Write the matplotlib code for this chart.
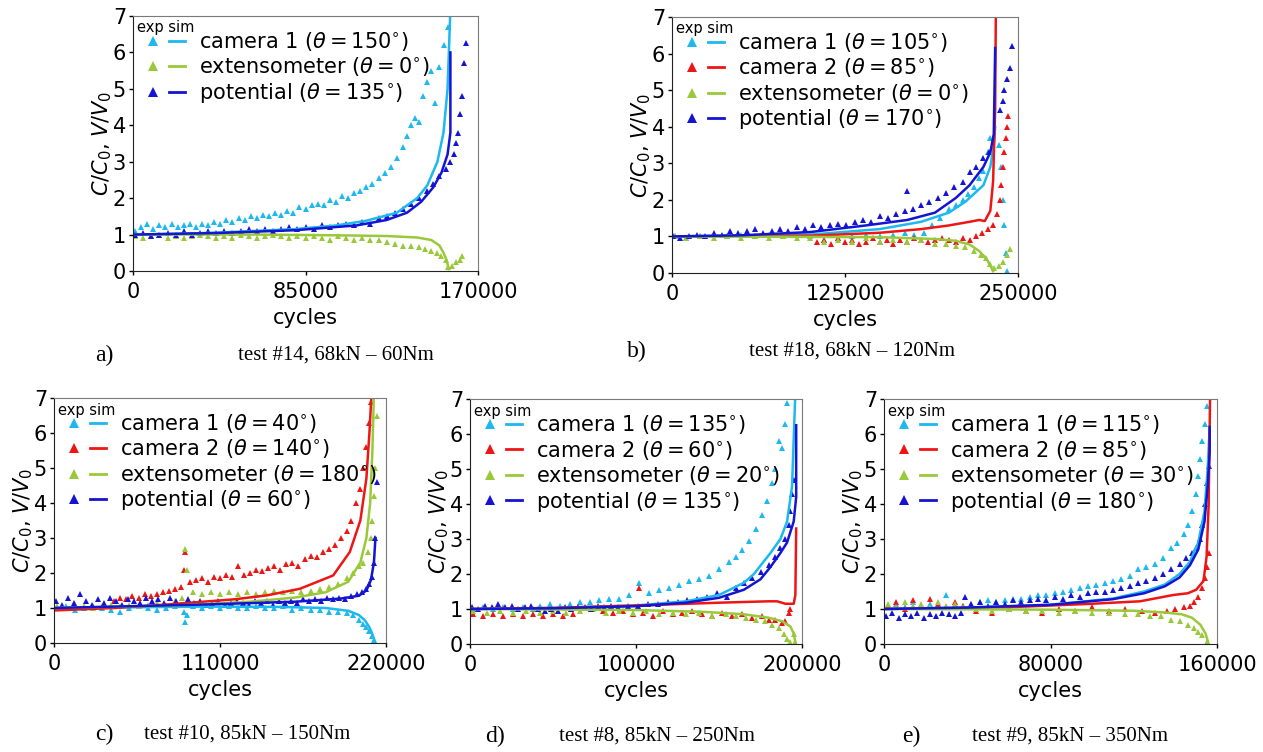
"""Capacitance / potential ratio versus cycles for five fatigue tests.

Triangles are measurements, solid lines the simulation.
"""

import numpy as np
import matplotlib
matplotlib.use('Agg')
from matplotlib import pyplot as plt
from matplotlib.lines import Line2D
from matplotlib.legend_handler import HandlerTuple

plt.rc('font', size=15.0)
plt.rc('lines', linewidth=1.7)

W, H = 1263, 752  # output size in pixels

C_CAM1 = '#1cb8ee'
C_CAM2 = '#ee1515'
C_EXT = '#99c93a'
C_POT = '#1414d2'

# ---------------------------------------------------------------------------
# data, cycles given in thousands
# ---------------------------------------------------------------------------

# test #14
a_xticks = [0, 85000, 170000]
a_cam1_x = [1, 4, 7, 10, 13, 16, 19, 22, 25, 28,
            31, 34, 37, 40, 43, 46, 49, 52, 55, 58,
            61, 64, 67, 70, 73, 76, 79, 82, 85, 88,
            91, 94, 97, 100, 103, 106, 109, 112, 115, 118,
            121, 124, 127, 130, 133, 135, 137, 139, 141, 143,
            145, 147, 149, 151, 153, 155]
a_cam1_y = [1.1, 1.2, 1.3, 1.15, 1.25, 1.2, 1.3, 1.2, 1.25, 1.3,
            1.2, 1.3, 1.25, 1.35, 1.3, 1.4, 1.35, 1.45, 1.4, 1.5,
            1.45, 1.55, 1.5, 1.6, 1.55, 1.65, 1.6, 1.75, 1.7, 1.8,
            1.85, 1.8, 1.95, 1.9, 2.05, 2.0, 2.15, 2.2, 2.3, 2.4,
            2.55, 2.7, 2.85, 3.1, 3.4, 3.7, 4.0, 4.2, 4.1, 4.8,
            5.2, 5.5, 4.6, 5.6, 6.2, 6.7]
a_pot_x = [1, 5, 9, 13, 17, 21, 25, 29, 33, 37,
           41, 45, 49, 53, 57, 61, 65, 69, 73, 77,
           81, 85, 89, 93, 97, 101, 105, 109, 113, 117,
           121, 125, 129, 133, 137, 141, 145, 148, 151, 154,
           156, 158, 159, 160, 161, 162, 163, 164]
a_pot_y = [1.0, 1.05, 0.95, 1.0, 1.05, 1.0, 1.1, 1.0, 1.05, 1.1,
           1.05, 1.1, 1.05, 1.1, 1.15, 1.1, 1.15, 1.1, 1.15, 1.2,
           1.15, 1.2, 1.15, 1.25, 1.2, 1.25, 1.3, 1.25, 1.35, 1.3,
           1.45, 1.5, 1.6, 1.7, 1.85, 2.0, 2.2, 2.4, 2.6, 2.8,
           3.0, 3.2, 3.5, 3.8, 4.3, 4.8, 5.7, 6.25]
a_ext_x = [1, 5, 9, 13, 17, 21, 25, 29, 33, 37,
           41, 45, 49, 53, 57, 61, 65, 69, 73, 77,
           81, 85, 89, 93, 97, 101, 105, 109, 113, 117,
           121, 125, 129, 133, 137, 141, 144, 147, 150, 152,
           154, 155, 157, 159, 161, 162]
a_ext_y = [0.95, 0.9, 0.95, 1.0, 0.9, 0.95, 0.9, 0.95, 1.0, 0.95,
           0.9, 0.95, 0.9, 1.0, 0.95, 0.9, 0.95, 1.0, 0.95, 0.9,
           0.95, 0.9, 0.95, 0.9, 0.85, 0.95, 0.9, 0.85, 0.9, 0.85,
           0.85, 0.8, 0.75, 0.7, 0.7, 0.65, 0.6, 0.55, 0.5, 0.4,
           0.3, 0.1, 0.15, 0.25, 0.3, 0.4]
a_cam1_sim_x = [0, 20, 40, 60, 80, 100, 115, 130, 140, 145, 150, 153, 155, 156.4]
a_cam1_sim_y = [1.0, 1.02, 1.05, 1.1, 1.15, 1.25, 1.38, 1.6, 2.0, 2.35, 3.0, 3.8, 5.0, 7.2]
a_pot_sim_x = [0, 40, 80, 110, 125, 135, 142, 148, 152, 155, 156.4, 156.4]
a_pot_sim_y = [1.0, 1.04, 1.12, 1.25, 1.4, 1.6, 1.9, 2.3, 2.7, 3.2, 3.8, 6.0]
a_ext_sim_x = [0, 60, 100, 125, 140, 147, 151, 153, 154.5, 155.6]
a_ext_sim_y = [1.0, 1.0, 0.98, 0.96, 0.92, 0.85, 0.7, 0.5, 0.3, 0.05]

# test #18
b_xticks = [0, 125000, 250000]
b_cam1_x = [2, 10, 20, 30, 40, 50, 60, 70, 80, 90,
            100, 110, 120, 130, 140, 150, 160, 168, 175, 182,
            188, 194, 200, 205, 210, 214, 218, 222, 225, 228,
            230, 236, 238, 239, 240, 241, 242]
b_cam1_y = [1.0, 0.95, 1.0, 1.05, 1.0, 1.05, 1.0, 1.05, 1.0, 1.05,
            1.0, 0.9, 0.95, 1.0, 1.05, 1.0, 1.05, 1.1, 1.05, 1.1,
            1.3, 1.5, 1.75, 1.85, 2.0, 2.15, 2.35, 2.6, 2.8, 3.3,
            3.7, 3.5, 2.9, 2.0, 1.3, 0.55, 0.05]
b_cam2_x = [105, 110, 115, 120, 125, 130, 135, 140, 145, 150,
            155, 160, 165, 170, 175, 180, 185, 190, 195, 200,
            205, 210, 215, 220, 224, 228, 232, 235, 237, 238,
            239, 240, 241, 242, 243]
b_cam2_y = [0.85, 0.9, 0.8, 0.95, 0.85, 0.9, 0.8, 0.85, 0.95, 0.85,
            0.9, 0.8, 0.9, 0.85, 0.95, 0.9, 0.85, 0.9, 0.95, 0.9,
            0.85, 0.95, 0.9, 1.0, 1.1, 1.2, 1.3, 1.6, 2.0, 2.4,
            2.9, 3.3, 3.7, 4.0, 4.3]
b_ext_x = [2, 10, 20, 30, 40, 50, 60, 70, 80, 90,
           100, 110, 120, 130, 140, 150, 160, 170, 180, 190,
           198, 205, 212, 218, 223, 227, 230, 233, 236, 239,
           242, 244]
b_ext_y = [1.0, 0.95, 1.0, 0.95, 1.0, 0.95, 1.0, 0.95, 1.0, 0.95,
           0.95, 0.85, 0.9, 0.85, 0.95, 0.85, 0.9, 0.85, 0.9, 0.8,
           0.8, 0.75, 0.7, 0.6, 0.5, 0.4, 0.25, 0.15, 0.2, 0.3,
           0.5, 0.65]
b_pot_x = [1, 6, 12, 18, 24, 30, 36, 42, 48, 54,
           60, 66, 72, 78, 84, 90, 96, 102, 108, 114,
           120, 126, 132, 138, 144, 150, 156, 162, 168, 170,
           174, 180, 186, 192, 198, 204, 210, 215, 220, 225,
           229, 237, 239, 240, 242, 244, 246]
b_pot_y = [1.0, 0.95, 1.0, 1.05, 1.0, 1.1, 1.05, 1.15, 1.1, 1.15,
           1.2, 1.1, 1.15, 1.2, 1.15, 1.25, 1.2, 1.3, 1.25, 1.3,
           1.35, 1.3, 1.4, 1.45, 1.4, 1.55, 1.5, 1.6, 1.7, 2.25,
           1.75, 1.85, 1.95, 2.05, 2.2, 2.35, 2.5, 2.75, 2.9, 3.15,
           3.3, 4.45, 4.7, 5.0, 5.3, 5.6, 6.2]
b_cam1_sim_x = [0, 100, 150, 180, 200, 212, 225, 230, 232.5, 233.5]
b_cam1_sim_y = [1.0, 1.05, 1.2, 1.4, 1.65, 1.95, 2.4, 2.9, 3.5, 4.0]
b_cam2_sim_x = [0, 100, 150, 180, 200, 215, 222, 226, 230, 232, 233.5, 234]
b_cam2_sim_y = [1.0, 1.02, 1.1, 1.2, 1.3, 1.4, 1.45, 1.42, 1.7, 2.5, 4.5, 7.2]
b_ext_sim_x = [0, 150, 190, 205, 215, 222, 227, 230, 232]
b_ext_sim_y = [1.0, 0.98, 0.93, 0.88, 0.78, 0.6, 0.4, 0.2, 0.05]
b_pot_sim_x = [0, 50, 100, 140, 170, 190, 205, 215, 225, 230, 232.5, 233.5]
b_pot_sim_y = [1.0, 1.03, 1.12, 1.3, 1.45, 1.65, 2.05, 2.4, 2.9, 3.3, 3.8, 6.15]

# test #10
c_xticks = [0, 110000, 220000]
c_cam1_x = [2, 8, 14, 20, 26, 32, 38, 44, 50, 56,
            62, 68, 74, 80, 86, 87, 88, 92, 98, 104,
            110, 116, 122, 128, 134, 140, 146, 152, 158, 164,
            170, 176, 182, 188, 194, 198, 202, 205, 207, 209,
            211, 212]
c_cam1_y = [1.0, 1.05, 0.95, 1.0, 1.05, 1.0, 0.95, 0.9, 1.0, 1.05,
            1.0, 0.95, 1.0, 1.05, 0.9, 0.6, 0.8, 1.05, 1.0, 1.05,
            1.0, 1.05, 1.0, 1.0, 1.05, 1.0, 1.0, 1.05, 0.95, 1.0,
            0.95, 0.95, 0.9, 0.9, 0.85, 0.8, 0.65, 0.55, 0.45, 0.35,
            0.2, 0.1]
c_cam2_x = [40, 44, 48, 52, 56, 60, 64, 68, 72, 76,
            80, 84, 86, 87, 90, 94, 98, 102, 106, 110,
            114, 118, 122, 126, 130, 134, 138, 142, 146, 150,
            154, 158, 162, 166, 170, 174, 178, 182, 186, 190,
            194, 197, 200, 203, 205, 207, 209, 210]
c_cam2_y = [1.2, 1.3, 1.25, 1.35, 1.3, 1.4, 1.35, 1.4, 1.45, 1.5,
            1.55, 1.6, 2.1, 2.6, 1.75, 1.8, 1.85, 1.75, 1.9, 1.85,
            1.95, 1.9, 2.2, 1.95, 2.0, 2.1, 2.05, 2.15, 2.2, 2.1,
            2.25, 2.3, 2.2, 2.4, 2.5, 2.45, 2.6, 2.7, 2.8, 3.0,
            3.2, 3.5, 4.0, 4.4, 5.0, 5.6, 6.3, 6.9]
c_ext_x = [2, 8, 14, 20, 26, 32, 38, 44, 50, 56,
           62, 68, 74, 80, 85, 87, 88, 92, 98, 104,
           110, 116, 122, 128, 134, 140, 146, 152, 158, 164,
           170, 176, 182, 188, 194, 198, 202, 205, 208, 210,
           211, 212, 213, 214]
c_ext_y = [1.05, 1.0, 1.1, 1.05, 1.0, 1.05, 1.1, 1.05, 1.1, 1.05,
           1.1, 1.15, 1.1, 1.2, 1.3, 2.7, 2.1, 1.45, 1.4, 1.45,
           1.4, 1.45, 1.4, 1.45, 1.4, 1.45, 1.5, 1.45, 1.5, 1.45,
           1.5, 1.55, 1.6, 1.7, 1.85, 2.0, 2.2, 2.3, 2.6, 3.0,
           3.5, 4.2, 5.0, 6.5]
c_pot_x = [1, 5, 9, 13, 17, 21, 25, 29, 33, 37,
           41, 45, 49, 53, 57, 61, 65, 69, 73, 77,
           81, 85, 89, 93, 97, 101, 105, 109, 113, 117,
           121, 125, 129, 133, 137, 141, 145, 149, 153, 157,
           161, 165, 169, 173, 177, 181, 185, 189, 193, 197,
           201, 204, 207, 209, 211, 212, 213, 214]
c_pot_y = [1.2, 1.1, 1.3, 1.15, 1.4, 1.2, 1.1, 1.25, 1.15, 1.3,
           1.2, 1.1, 1.25, 1.2, 1.15, 1.3, 1.2, 1.25, 1.15, 1.3,
           1.2, 1.1, 1.25, 1.15, 1.2, 1.1, 1.15, 1.2, 1.1, 1.15,
           1.2, 1.15, 1.1, 1.2, 1.15, 1.2, 1.1, 1.2, 1.15, 1.2,
           1.15, 1.25, 1.2, 1.25, 1.2, 1.3, 1.25, 1.3, 1.25, 1.35,
           1.4, 1.45, 1.55, 1.7, 1.9, 2.3, 3.0, 4.6]
c_cam1_sim_x = [0, 50, 100, 150, 180, 195, 202, 206, 209, 211, 212.5]
c_cam1_sim_y = [1.0, 1.02, 1.04, 1.03, 1.0, 0.92, 0.8, 0.65, 0.45, 0.25, 0.05]
c_cam2_sim_x = [0, 40, 75, 120, 141, 163, 185, 196, 203, 207, 209, 210.5]
c_cam2_sim_y = [0.93, 1.0, 1.1, 1.25, 1.36, 1.55, 1.93, 2.6, 3.5, 4.7, 6.0, 7.2]
c_ext_sim_x = [0, 80, 130, 160, 180, 195, 203, 207, 209.5, 211, 212]
c_ext_sim_y = [1.0, 1.07, 1.18, 1.3, 1.45, 1.75, 2.3, 3.0, 4.0, 5.5, 7.2]
c_pot_sim_x = [0, 100, 160, 190, 202, 207, 210, 212, 213]
c_pot_sim_y = [1.0, 1.1, 1.18, 1.27, 1.35, 1.5, 1.8, 2.3, 3.0]

# test #8
d_xticks = [0, 100000, 200000]
d_cam1_x = [2, 8, 14, 20, 26, 32, 38, 42, 48, 54,
            60, 66, 72, 78, 84, 90, 96, 102, 108, 114,
            120, 126, 132, 138, 144, 150, 156, 160, 164, 168,
            172, 176, 179, 182, 184, 186, 188, 190, 191]
d_cam1_y = [1.0, 1.05, 1.0, 1.05, 1.0, 1.05, 1.0, 1.1, 1.15, 1.1,
            1.15, 1.2, 1.2, 1.25, 1.3, 1.3, 1.4, 1.75, 1.45, 1.55,
            1.6, 1.7, 1.8, 1.85, 1.95, 2.15, 2.35, 2.5, 2.7, 2.95,
            3.3, 3.7, 4.1, 4.6, 5.0, 5.8, 5.6, 6.3, 6.9]
d_cam2_x = [2, 8, 14, 20, 26, 32, 38, 44, 50, 56,
            62, 80, 86, 92, 98, 102, 104, 110, 116, 122,
            128, 134, 140, 146, 152, 158, 164, 170, 176, 180,
            184, 188, 190, 192, 193]
d_cam2_y = [0.85, 0.8, 0.85, 0.8, 0.85, 0.8, 0.85, 0.8, 0.85, 0.8,
            0.85, 0.95, 0.9, 0.95, 0.85, 1.6, 0.9, 0.8, 0.95, 0.85,
            0.9, 0.95, 0.85, 0.8, 0.9, 0.8, 0.85, 0.75, 0.8, 0.7,
            0.7, 0.6, 0.65, 0.9, 1.0]
d_ext_x = [2, 10, 18, 26, 34, 42, 50, 58, 66, 74,
           82, 90, 98, 106, 114, 122, 130, 138, 146, 154,
           160, 166, 172, 178, 182, 186, 189, 191, 193, 195,
           196]
d_ext_y = [0.95, 0.9, 0.95, 0.9, 0.95, 0.9, 0.95, 0.9, 0.95, 1.0,
           0.9, 0.95, 0.9, 0.95, 0.85, 0.9, 0.85, 0.9, 0.8, 0.85,
           0.8, 0.75, 0.7, 0.65, 0.55, 0.45, 0.3, 0.15, 0.05, 0.3,
           0.05]
d_pot_x = [1, 5, 9, 13, 17, 21, 25, 29, 33, 37,
           41, 45, 49, 53, 57, 61, 65, 69, 73, 77,
           81, 85, 89, 95, 101, 107, 113, 119, 125, 131,
           137, 143, 149, 155, 160, 165, 170, 175, 180, 184,
           187, 190, 192, 193, 194, 195]
d_pot_y = [1.05, 1.0, 1.1, 1.05, 1.15, 1.05, 1.1, 1.0, 1.05, 1.1,
           1.0, 0.95, 1.0, 0.95, 1.05, 1.0, 1.05, 1.05, 1.0, 1.1,
           1.05, 1.1, 1.05, 1.1, 1.1, 1.15, 1.15, 1.2, 1.2, 1.25,
           1.3, 1.35, 1.45, 1.35, 1.6, 1.75, 1.9, 2.05, 2.25, 2.5,
           2.75, 3.0, 3.4, 3.8, 4.3, 4.7]
d_cam1_sim_x = [0, 50, 100, 130, 150, 165, 171, 181, 187, 191, 194, 196]
d_cam1_sim_y = [1.0, 1.03, 1.1, 1.22, 1.4, 1.75, 2.0, 2.6, 3.0, 3.5, 4.5, 7.2]
d_cam2_sim_x = [0, 50, 100, 150, 180, 185, 190, 195, 196, 196.5]
d_cam2_sim_y = [1.0, 1.03, 1.1, 1.18, 1.22, 1.22, 1.15, 1.15, 1.4, 3.3]
d_ext_sim_x = [0, 100, 140, 165, 180, 188, 193, 195, 196]
d_ext_sim_y = [1.0, 0.97, 0.92, 0.85, 0.75, 0.65, 0.5, 0.3, 0.05]
d_pot_sim_x = [0, 50, 100, 130, 150, 165, 175, 181, 187, 191, 195, 196.5, 196.5]
d_pot_sim_y = [1.0, 1.02, 1.08, 1.18, 1.32, 1.55, 1.85, 2.2, 2.6, 2.9, 3.5, 4.2, 6.25]

# test #9
e_xticks = [0, 80000, 160000]
e_cam1_x = [2, 6, 10, 14, 18, 22, 26, 30, 34, 38,
            42, 46, 50, 54, 58, 62, 66, 70, 74, 78,
            82, 86, 90, 94, 98, 102, 106, 110, 114, 118,
            122, 126, 130, 134, 138, 141, 144, 146, 148, 150,
            151, 152, 153, 154, 155]
e_cam1_y = [1.1, 1.15, 1.05, 1.2, 1.1, 1.15, 1.1, 1.4, 1.15, 1.1,
            1.15, 1.2, 1.25, 1.2, 1.25, 1.3, 1.3, 1.35, 1.4, 1.4,
            1.45, 1.5, 1.55, 1.6, 1.65, 1.7, 1.75, 1.8, 1.85, 1.95,
            2.15, 2.2, 2.3, 2.45, 2.75, 2.9, 3.15, 3.4, 3.8, 4.3,
            4.8, 5.3, 5.8, 6.3, 6.8]
e_cam2_x = [2, 6, 10, 14, 18, 22, 26, 30, 34, 38,
            44, 52, 60, 68, 76, 84, 92, 100, 108, 116,
            124, 130, 136, 140, 144, 147, 149, 151, 153, 154,
            155, 156]
e_cam2_y = [1.1, 1.2, 1.0, 1.25, 1.1, 1.3, 1.15, 1.05, 1.2, 1.1,
            0.95, 0.9, 1.0, 0.95, 0.9, 1.0, 0.95, 1.05, 0.95, 1.0,
            0.95, 0.9, 0.95, 1.0, 1.05, 1.1, 1.2, 1.35, 1.6, 1.9,
            2.2, 2.6]
e_ext_x = [2, 6, 10, 14, 18, 22, 26, 30, 34, 38,
           44, 52, 60, 68, 76, 84, 92, 100, 108, 116,
           122, 128, 133, 138, 142, 146, 149, 151, 153, 155]
e_ext_y = [1.15, 1.05, 1.2, 1.1, 1.15, 1.05, 1.2, 1.1, 1.15, 1.05,
           1.0, 0.95, 1.0, 0.95, 0.95, 0.9, 0.95, 0.9, 0.9, 0.85,
           0.85, 0.8, 0.8, 0.7, 0.65, 0.55, 0.45, 0.35, 0.25, 0.05]
e_pot_x = [1, 4, 7, 10, 13, 16, 19, 22, 25, 28,
           31, 34, 37, 39, 42, 46, 50, 54, 58, 62,
           66, 70, 74, 78, 82, 86, 90, 94, 98, 102,
           106, 110, 114, 118, 122, 126, 130, 134, 138, 142,
           145, 148, 150, 152, 153, 154, 155, 156]
e_pot_y = [0.8, 0.9, 0.75, 0.85, 0.8, 0.9, 0.75, 0.85, 0.8, 0.9,
           0.85, 0.8, 0.9, 1.35, 1.15, 1.2, 1.1, 1.2, 1.15, 1.25,
           1.2, 1.25, 1.3, 1.25, 1.35, 1.3, 1.4, 1.35, 1.45, 1.5,
           1.5, 1.55, 1.6, 1.65, 1.75, 1.8, 1.9, 2.0, 2.15, 2.3,
           2.45, 2.6, 2.75, 3.0, 3.4, 4.0, 4.6, 5.1]
e_cam1_sim_x = [0, 40, 80, 110, 125, 135, 142, 147, 151, 154, 155.5, 156.5]
e_cam1_sim_y = [1.0, 1.04, 1.12, 1.3, 1.5, 1.7, 2.0, 2.35, 2.9, 3.8, 5.0, 6.2]
e_cam2_sim_x = [0, 60, 100, 123, 139, 146, 150, 153.5, 155, 156, 156.7]
e_cam2_sim_y = [1.0, 1.05, 1.15, 1.22, 1.4, 1.45, 1.55, 1.8, 2.5, 4.0, 7.2]
e_ext_sim_x = [0, 80, 120, 135, 143, 148, 152, 154.5, 156]
e_ext_sim_y = [1.0, 0.98, 0.95, 0.9, 0.85, 0.75, 0.55, 0.3, 0.0]
e_pot_sim_x = [0, 40, 80, 110, 125, 135, 142, 147, 151, 154, 155.5, 156.5, 156.5]
e_pot_sim_y = [1.0, 1.04, 1.12, 1.28, 1.45, 1.65, 1.9, 2.25, 2.7, 3.5, 4.5, 5.5, 6.2]

# ---------------------------------------------------------------------------
# panel layout: axes box in pixels (left, top, right, bottom)
# ---------------------------------------------------------------------------
panels = [
    dict(box=(133, 16, 478, 271), xticks=a_xticks,
         letter='a)', letter_xy=(95, 355),
         caption='test #14, 68kN \u2013 60Nm', caption_xy=(336, 355),
         series=[('camera 1', 150, C_CAM1, a_cam1_x, a_cam1_y, a_cam1_sim_x, a_cam1_sim_y),
                 ('extensometer', 0, C_EXT, a_ext_x, a_ext_y, a_ext_sim_x, a_ext_sim_y),
                 ('potential', 135, C_POT, a_pot_x, a_pot_y, a_pot_sim_x, a_pot_sim_y)]),
    dict(box=(672, 17, 1018, 273), xticks=b_xticks,
         letter='b)', letter_xy=(627, 351),
         caption='test #18, 68kN \u2013 120Nm', caption_xy=(852, 351),
         series=[('camera 1', 105, C_CAM1, b_cam1_x, b_cam1_y, b_cam1_sim_x, b_cam1_sim_y),
                 ('camera 2', 85, C_CAM2, b_cam2_x, b_cam2_y, b_cam2_sim_x, b_cam2_sim_y),
                 ('extensometer', 0, C_EXT, b_ext_x, b_ext_y, b_ext_sim_x, b_ext_sim_y),
                 ('potential', 170, C_POT, b_pot_x, b_pot_y, b_pot_sim_x, b_pot_sim_y)]),
    dict(box=(54, 398, 386, 643), xticks=c_xticks,
         letter='c)', letter_xy=(95, 734),
         caption='test #10, 85kN \u2013 150Nm', caption_xy=(247, 734),
         series=[('camera 1', 40, C_CAM1, c_cam1_x, c_cam1_y, c_cam1_sim_x, c_cam1_sim_y),
                 ('camera 2', 140, C_CAM2, c_cam2_x, c_cam2_y, c_cam2_sim_x, c_cam2_sim_y),
                 ('extensometer', 180, C_EXT, c_ext_x, c_ext_y, c_ext_sim_x, c_ext_sim_y),
                 ('potential', 60, C_POT, c_pot_x, c_pot_y, c_pot_sim_x, c_pot_sim_y)]),
    dict(box=(470, 399, 802, 644), xticks=d_xticks,
         letter='d)', letter_xy=(485, 736),
         caption='test #8, 85kN \u2013 250Nm', caption_xy=(657, 736),
         series=[('camera 1', 135, C_CAM1, d_cam1_x, d_cam1_y, d_cam1_sim_x, d_cam1_sim_y),
                 ('camera 2', 60, C_CAM2, d_cam2_x, d_cam2_y, d_cam2_sim_x, d_cam2_sim_y),
                 ('extensometer', 20, C_EXT, d_ext_x, d_ext_y, d_ext_sim_x, d_ext_sim_y),
                 ('potential', 135, C_POT, d_pot_x, d_pot_y, d_pot_sim_x, d_pot_sim_y)]),
    dict(box=(884, 399, 1217, 644), xticks=e_xticks,
         letter='e)', letter_xy=(902, 736),
         caption='test #9, 85kN \u2013 350Nm', caption_xy=(1070, 736),
         series=[('camera 1', 115, C_CAM1, e_cam1_x, e_cam1_y, e_cam1_sim_x, e_cam1_sim_y),
                 ('camera 2', 85, C_CAM2, e_cam2_x, e_cam2_y, e_cam2_sim_x, e_cam2_sim_y),
                 ('extensometer', 30, C_EXT, e_ext_x, e_ext_y, e_ext_sim_x, e_ext_sim_y),
                 ('potential', 180, C_POT, e_pot_x, e_pot_y, e_pot_sim_x, e_pot_sim_y)]),
]


def draw_panel(fig, p):
    x0, y0, x1, y1 = p['box']
    wpx, hpx = x1 - x0, y1 - y0
    ax = fig.add_axes([x0 / W, 1 - y1 / H, wpx / W, hpx / H])

    # measurements first, simulations on top
    for name, theta, col, ex, ey, sx, sy in p['series']:
        ax.plot(np.array(ex) * 1000, ey, '^', color=col, ms=4.2, mew=0)
    for name, theta, col, ex, ey, sx, sy in p['series']:
        ax.plot(np.array(sx) * 1000, sy, '-', color=col, lw=1.8)

    ax.set_xlim(p['xticks'][0], p['xticks'][-1])
    ax.set_ylim(0, 7)
    ax.set_xticks(p['xticks'])
    ax.set_xticklabels([str(t) for t in p['xticks']])
    ax.set_yticks(range(8))
    ax.tick_params(length=3, width=1, labelsize=15)
    ax.tick_params(axis='x', pad=5)
    ax.tick_params(axis='y', pad=2)
    ax.set_xlabel('cycles', fontsize=15, labelpad=4)
    ax.set_ylabel(r'$C/C_0$, $V/V_0$', fontsize=15, labelpad=-1)
    for side in ('top', 'right'):
        ax.spines[side].set_color('#7a7a7a')
    for side in ('left', 'bottom'):
        ax.spines[side].set_color('#222222')

    handles, labels = [], []
    for name, theta, col, ex, ey, sx, sy in p['series']:
        m = Line2D([], [], marker='^', ls='none', color=col, ms=6.5, mew=0)
        l = Line2D([], [], color=col, lw=2)
        handles.append((m, l))
        labels.append(name + r' ($\theta = %d^{\circ}$)' % theta)
    ax.legend(handles, labels, handler_map={tuple: HandlerTuple(ndivide=None, pad=0.4)},
              loc='upper left', bbox_to_anchor=(12 / wpx, 1 - 14 / hpx),
              frameon=False, borderpad=0, borderaxespad=0, fontsize=15,
              handlelength=1.9, handletextpad=0.7, labelspacing=0.12)
    ax.text(4 / wpx, 1 - 12 / hpx, 'exp sim', transform=ax.transAxes,
            fontsize=10.5, ha='left', va='center')

    lx, ly = p['letter_xy']
    fig.text(lx / W, 1 - ly / H, p['letter'], family='Liberation Serif',
             fontsize=17, ha='left', va='center')
    cx, cy = p['caption_xy']
    fig.text(cx / W, 1 - cy / H, p['caption'], family='Liberation Serif',
             fontsize=15, ha='center', va='center')
    return ax


fig = plt.figure(figsize=(W / 100, H / 100), dpi=100)
for p in panels:
    draw_panel(fig, p)
fig.savefig('out.png', dpi=100)
